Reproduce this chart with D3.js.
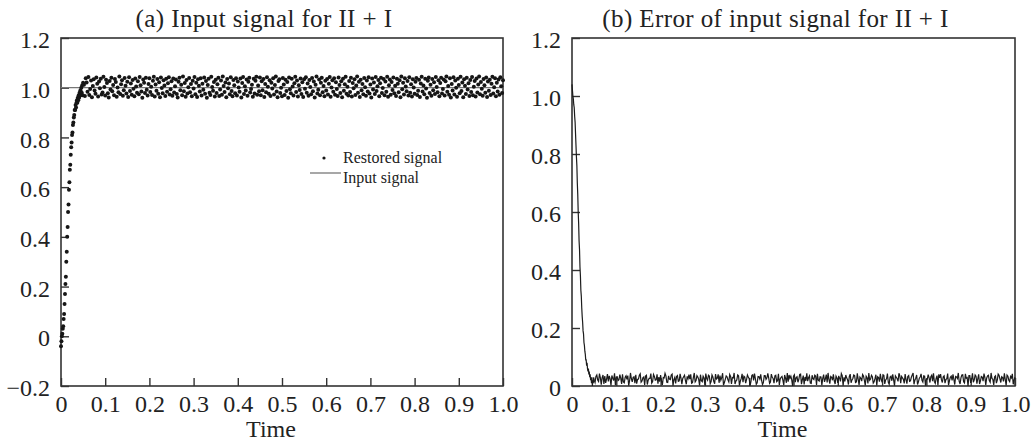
<!DOCTYPE html>
<html>
<head>
<meta charset="utf-8">
<script src="https://cdn.jsdelivr.net/npm/d3@7"></script>
<style>
  body { margin: 0; background: #fff; }
  svg { display: block; font-family: 'Liberation Serif', 'Times New Roman', serif; }
  svg text { font-family: 'Liberation Serif', 'Times New Roman', serif !important; }
</style>
</head>
<body>
<div id="chart"></div>
<script>
// restored signal, rise part: t = 0 .. 0.050, step 0.001
const riseStep = 0.001;
const riseValues = [
  -0.04, -0.02, 0.0, 0.01, 0.03, 0.04, 0.07, 0.09, 0.13, 0.17,
  0.21, 0.24, 0.3, 0.34, 0.4, 0.44, 0.5, 0.53, 0.59, 0.62,
  0.67, 0.69, 0.73, 0.76, 0.78, 0.81, 0.82, 0.85, 0.86, 0.88,
  0.89, 0.91, 0.91, 0.93, 0.92, 0.94, 0.95, 0.94, 0.96, 0.95,
  0.97, 0.96, 0.98, 0.97, 0.99, 0.97, 1.0, 0.98, 1.01, 0.97, 1.02,
];

// restored signal, steady part: t = 0.052 .. 1.000, step 0.002
const steadyStart = 0.052;
const steadyStep = 0.002;
const steadyValues = [
  1.012,0.967,1.038,1.021,0.984,1.043,0.971,0.995,1.029,0.962,1.007,1.034,0.989,0.976,1.041,1.016,0.965,1.025,0.998,1.036,0.973,0.981,1.044,1.003,0.969,
  1.032,1.019,0.978,0.961,1.027,0.993,1.040,0.986,1.011,0.970,1.035,1.023,0.964,1.001,0.982,1.045,0.975,1.014,1.030,0.968,0.990,1.039,1.008,0.977,1.024,
  0.963,1.042,0.987,1.017,0.972,1.031,0.996,0.966,1.037,1.005,0.980,1.026,0.974,1.043,1.010,0.985,0.960,1.033,1.020,0.979,1.040,0.992,0.969,1.015,1.038,
  0.983,1.004,0.971,1.028,1.044,0.965,1.013,0.988,1.035,0.976,1.022,0.962,1.041,0.999,0.978,1.030,1.009,0.967,1.036,0.984,1.018,1.042,0.973,0.994,1.026,
  0.968,1.037,0.981,1.006,1.033,0.975,0.961,1.024,1.040,0.990,1.012,0.970,1.045,0.986,1.019,0.964,1.031,0.977,1.002,1.039,0.982,1.015,0.966,1.028,0.997,
  1.043,0.974,1.020,0.963,1.034,1.008,0.985,1.038,0.969,1.016,0.992,1.041,0.976,1.027,0.960,1.011,1.036,0.980,0.971,1.044,1.003,0.988,1.023,0.965,1.032,
  0.979,1.014,1.040,0.967,0.993,1.029,0.972,1.045,1.007,0.983,1.021,0.962,1.035,0.998,1.017,0.974,1.042,0.987,0.966,1.031,1.010,0.978,1.038,0.969,1.025,
  1.001,0.984,1.037,0.961,1.019,1.043,0.975,1.006,0.989,1.033,0.968,1.024,1.040,0.981,0.995,1.012,0.964,1.036,0.977,1.028,1.044,0.972,1.009,0.986,1.041,
  0.970,1.026,0.990,1.035,0.963,1.015,0.982,1.042,1.004,0.976,1.030,0.967,1.020,0.997,1.038,0.973,1.011,1.045,0.985,0.962,1.027,1.034,0.979,1.000,0.966,
  1.039,1.013,0.971,1.032,0.987,1.023,0.960,1.041,0.994,0.978,1.036,1.005,0.969,1.018,1.044,0.983,1.029,0.965,1.010,0.991,1.037,0.975,1.022,0.963,1.034,
  0.996,1.042,0.980,1.017,0.968,1.031,1.003,0.974,1.039,0.986,1.025,0.961,1.012,1.045,0.977,0.992,1.033,0.970,1.020,1.040,0.982,1.007,0.966,1.028,0.989,
  1.035,0.973,1.016,1.043,0.964,1.001,1.030,0.984,1.038,0.972,1.022,0.995,0.967,1.041,1.011,0.979,1.026,0.962,1.036,0.988,1.014,1.044,0.976,1.004,0.969,
  1.027,0.983,1.040,0.965,1.019,0.998,1.034,0.971,1.009,1.045,0.980,1.024,0.963,1.032,0.990,1.015,0.974,1.039,1.002,0.968,1.029,0.985,1.042,0.977,1.013,
  0.961,1.037,0.993,1.021,0.975,1.043,0.987,1.006,1.031,0.966,1.018,1.040,0.979,0.999,1.035,0.970,1.025,0.984,1.044,0.964,1.010,1.033,0.972,1.023,0.991,
  1.041,0.978,1.008,0.967,1.036,1.016,0.982,1.030,0.962,1.045,0.994,1.020,0.973,1.038,1.005,0.986,1.027,0.969,1.042,0.980,1.014,0.965,1.034,1.001,0.976,
  1.024,1.039,0.971,0.988,1.032,0.963,1.017,1.044,0.985,1.009,0.974,1.036,0.997,0.960,1.028,1.041,0.979,1.012,0.968,1.035,0.990,1.022,0.975,1.043,1.003,
  0.982,1.030,0.966,1.019,1.040,0.977,0.995,1.033,0.969,1.026,1.045,0.984,1.007,0.972,1.038,0.961,1.015,0.989,1.042,0.973,1.029,1.000,0.964,1.036,1.011,
  0.978,1.044,0.987,1.021,0.962,1.034,1.008,0.975,1.040,0.993,1.018,0.967,1.031,0.983,1.043,0.970,1.004,1.027,0.965,1.037,0.981,1.013,1.045,0.974,1.023,
  0.996,0.968,1.035,1.010,0.980,1.041,0.963,1.025,0.988,1.032,0.971,1.016,1.044,0.977,1.002,1.038,0.966,1.020,0.985,1.033,0.972,1.042,1.006,0.979,1.030,
];

// input signal (unit step)
const inputTimes = [0, 1];
const inputValues = [1, 1];

// axis ticks
const timeTicks = [0, 0.1, 0.2, 0.3, 0.4, 0.5, 0.6, 0.7, 0.8, 0.9, 1.0];
const timeTickLabels = ['0', '0.1', '0.2', '0.3', '0.4', '0.5', '0.6', '0.7', '0.8', '0.9', '1.0'];
const signalTicks = [-0.2, 0, 0.2, 0.4, 0.6, 0.8, 1.0, 1.2];
const signalTickLabels = ['\u22120.2', '0', '0.2', '0.4', '0.6', '0.8', '1.0', '1.2'];
const errorTicks = [0, 0.2, 0.4, 0.6, 0.8, 1.0, 1.2];
const errorTickLabels = ['0', '0.2', '0.4', '0.6', '0.8', '1.0', '1.2'];

const titles = ['(a) Input signal for II + I', '(b) Error of input signal for II + I'];
const legendLabels = ['Restored signal', 'Input signal'];

const restored = riseValues
  .map((v, i) => ({ t: i * riseStep, v }))
  .concat(steadyValues.map((v, i) => ({ t: steadyStart + i * steadyStep, v })));
// error = |input - restored|
const errors = restored.map(d => ({ t: d.t, v: Math.abs(inputValues[0] - d.v) }));
const inputLine = inputTimes.map((t, i) => ({ t, v: inputValues[i] }));

const width = 1036;
const height = 443;
const serif = "'Liberation Serif', 'Times New Roman', serif";

const svg = d3
  .select('#chart')
  .append('svg')
  .attr('width', width)
  .attr('height', height);

function drawPanel(box, yDomain, yTicks, yLabels, title) {
  const x = d3.scaleLinear().domain([0, 1]).range([box.left, box.right]);
  const y = d3.scaleLinear().domain(yDomain).range([box.bottom, box.top]);
  const xFmt = d => timeTickLabels[timeTicks.indexOf(d)];
  const yFmt = d => yLabels[yTicks.indexOf(d)];

  // x axis, ticks pointing inwards
  const gx = svg
    .append('g')
    .attr('transform', `translate(0,${box.bottom})`)
    .call(d3.axisBottom(x).tickValues(timeTicks).tickFormat(xFmt).tickSize(-8).tickPadding(9));
  gx.select('.domain').remove();
  gx.selectAll('line').attr('stroke', '#333').attr('stroke-width', 1.4);
  gx.selectAll('text').attr('fill', '#222').style('font-family', serif).style('font-size', '24px');

  // y axis
  const gy = svg
    .append('g')
    .attr('transform', `translate(${box.left},0)`)
    .call(d3.axisLeft(y).tickValues(yTicks).tickFormat(yFmt).tickSize(-8).tickPadding(11));
  gy.select('.domain').remove();
  gy.selectAll('line').attr('stroke', '#333').attr('stroke-width', 1.4);
  gy.selectAll('text')
    .attr('fill', '#222')
    .attr('dy', '0.4em')
    .style('font-family', serif)
    .style('font-size', '24px');

  // frame
  svg
    .append('rect')
    .attr('x', box.left)
    .attr('y', box.top)
    .attr('width', box.right - box.left)
    .attr('height', box.bottom - box.top)
    .attr('fill', 'none')
    .attr('stroke', '#333')
    .attr('stroke-width', 1.6);

  svg
    .append('text')
    .attr('x', (box.left + box.right) / 2 - 18)
    .attr('y', 27)
    .attr('text-anchor', 'middle')
    .style('font-size', '25px')
    .style('letter-spacing', '0.4px')
    .attr('fill', '#222')
    .text(title);

  svg
    .append('text')
    .attr('x', (box.left + box.right) / 2 - 11)
    .attr('y', 437)
    .attr('text-anchor', 'middle')
    .style('font-size', '24px')
    .attr('fill', '#222')
    .text('Time');

  return { x, y };
}

// (a) input and restored signal
const a = drawPanel({ left: 61, right: 503, top: 38, bottom: 386 }, [-0.2, 1.2], signalTicks, signalTickLabels, titles[0]);

svg
  .append('path')
  .datum(inputLine)
  .attr('fill', 'none')
  .attr('stroke', '#777')
  .attr('stroke-width', 1.3)
  .attr('d', d3.line().x(d => a.x(d.t)).y(d => a.y(d.v)));

svg
  .append('g')
  .selectAll('circle')
  .data(restored)
  .enter()
  .append('circle')
  .attr('cx', d => a.x(d.t))
  .attr('cy', d => a.y(d.v))
  .attr('r', 2)
  .attr('fill', '#161616');

// legend
const legend = svg.append('g').style('font-size', '16px').attr('fill', '#222');
legend.append('circle').attr('cx', 324).attr('cy', 158).attr('r', 1.6).attr('fill', '#161616');
legend.append('text').attr('x', 343).attr('y', 163).text(legendLabels[0]);
legend.append('line').attr('x1', 310).attr('x2', 341).attr('y1', 173).attr('y2', 173).attr('stroke', '#777').attr('stroke-width', 1.3);
legend.append('text').attr('x', 343).attr('y', 183).text(legendLabels[1]);

// (b) error of the input signal
const b = drawPanel({ left: 572, right: 1015, top: 38, bottom: 386 }, [0, 1.2], errorTicks, errorTickLabels, titles[1]);

svg
  .append('path')
  .datum(errors)
  .attr('fill', 'none')
  .attr('stroke', '#1c1c1c')
  .attr('stroke-width', 1.2)
  .attr('d', d3.line().x(d => b.x(d.t)).y(d => b.y(d.v)));
</script>
</body>
</html>
